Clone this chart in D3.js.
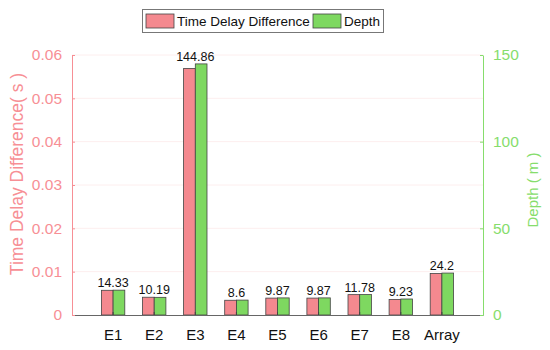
<html>
<head>
<script src="https://d3js.org/d3.v7.min.js"></script>
<style>
  body { margin: 0; background: #fff; }
  text { font-family: "Liberation Sans", Arial, sans-serif; }
</style>
</head>
<body>
<svg id="chart" width="550" height="350"></svg>
<script>
// data
var categories = ["E1", "E2", "E3", "E4", "E5", "E6", "E7", "E8", "Array"];
var timeDelay = [0.0057, 0.0041, 0.0569, 0.0034, 0.0039, 0.0039, 0.0047, 0.0036, 0.0096];
var depth = [14.33, 10.19, 144.86, 8.6, 9.87, 9.87, 11.78, 9.23, 24.2];
var leftTicks = [0, 0.01, 0.02, 0.03, 0.04, 0.05, 0.06];
var rightTicks = [0, 50, 100, 150];

var red = "#f4898f", green = "#7ed860";
var redAxis = "#f78f95", greenAxis = "#86dd6c";

var svg = d3.select("#chart");
var mLeft = 72, mRight = 483, mTop = 55, mBottom = 315;

var x = d3.scaleBand().domain(categories).range([mLeft, mRight]).paddingInner(0).paddingOuter(0.5);
var yL = d3.scaleLinear().domain([0, 0.06]).range([mBottom, mTop]);
var yR = d3.scaleLinear().domain([0, 150]).range([mBottom, mTop]);
var bw = 11.7;

// grid lines
svg.append("g").selectAll("line")
  .data(leftTicks.slice(1))
  .enter().append("line")
    .attr("x1", mLeft).attr("x2", mRight)
    .attr("y1", function(d) { return yL(d); })
    .attr("y2", function(d) { return yL(d); })
    .attr("stroke", "#fdeeee").attr("stroke-width", 1);

// bars
var rows = categories.map(function(c, i) { return {c: c, t: timeDelay[i], d: depth[i]}; });
svg.append("g").selectAll("rect")
  .data(rows).enter().append("rect")
    .attr("x", function(d) { return x(d.c) + x.bandwidth() / 2 - bw; })
    .attr("y", function(d) { return yL(d.t); })
    .attr("width", bw)
    .attr("height", function(d) { return mBottom - yL(d.t); })
    .attr("fill", red).attr("stroke", "#444").attr("stroke-width", 0.8);
svg.append("g").selectAll("rect")
  .data(rows).enter().append("rect")
    .attr("x", function(d) { return x(d.c) + x.bandwidth() / 2; })
    .attr("y", function(d) { return yR(d.d); })
    .attr("width", bw)
    .attr("height", function(d) { return mBottom - yR(d.d); })
    .attr("fill", green).attr("stroke", "#444").attr("stroke-width", 0.8);

// value labels
svg.append("g").selectAll("text")
  .data(rows).enter().append("text")
    .attr("x", function(d) { return x(d.c) + x.bandwidth() / 2; })
    .attr("y", function(d) { return Math.min(yR(d.d), yL(d.t)) - 3; })
    .attr("text-anchor", "middle")
    .style("font-size", "12.5px").attr("fill", "#111")
    .text(function(d) { return d.d; });

// x axis
var gx = svg.append("g").attr("transform", "translate(0," + mBottom + ")")
  .call(d3.axisBottom(x).tickSizeInner(-3).tickSizeOuter(0).tickPadding(14));
gx.select(".domain").attr("stroke", "#666").attr("stroke-width", 1.2);
gx.selectAll(".tick line").attr("stroke", "#444");
gx.selectAll("text").style("font-size", "15px").attr("fill", "#111");

// left axis
var gl = svg.append("g").attr("transform", "translate(" + mLeft + ",0)")
  .call(d3.axisLeft(yL).tickValues(leftTicks).tickFormat(function(d) { return d === 0 ? "0" : d3.format(".2f")(d); })
    .tickSizeInner(-3).tickSizeOuter(0).tickPadding(10));
gl.select(".domain").attr("stroke", redAxis);
gl.selectAll(".tick line").attr("stroke", redAxis);
gl.selectAll("text").style("font-size", "15.5px").attr("fill", redAxis);

// right axis
var gr = svg.append("g").attr("transform", "translate(" + mRight + ",0)")
  .call(d3.axisRight(yR).tickValues(rightTicks).tickSizeInner(-3).tickSizeOuter(0).tickPadding(10));
gr.select(".domain").attr("stroke", greenAxis);
gr.selectAll(".tick line").attr("stroke", greenAxis);
gr.selectAll("text").style("font-size", "15.5px").attr("fill", greenAxis);

// axis titles
svg.append("text")
  .attr("transform", "translate(23,174) rotate(-90)")
  .attr("text-anchor", "middle").style("font-size", "17.5px").attr("fill", redAxis)
  .text("Time Delay Difference( s )");
svg.append("text")
  .attr("transform", "translate(538,190) rotate(-90)")
  .attr("text-anchor", "middle").style("font-size", "15px").attr("fill", greenAxis)
  .text("Depth ( m )");

// legend
var lg = svg.append("g");
lg.append("rect").attr("x", 142.5).attr("y", 9.5).attr("width", 241).attr("height", 23)
  .attr("fill", "#fff").attr("stroke", "#777");
var legendItems = [
  {label: "Time Delay Difference", color: red, x: 146},
  {label: "Depth", color: green, x: 313}
];
legendItems.forEach(function(it) {
  lg.append("rect").attr("x", it.x).attr("y", 14).attr("width", 28).attr("height", 14)
    .attr("fill", it.color).attr("stroke", "#444").attr("stroke-width", 0.8);
  lg.append("text").attr("x", it.x + 31).attr("y", 26)
    .style("font-size", "13.5px").attr("fill", "#111").text(it.label);
});
</script>
</body>
</html>
